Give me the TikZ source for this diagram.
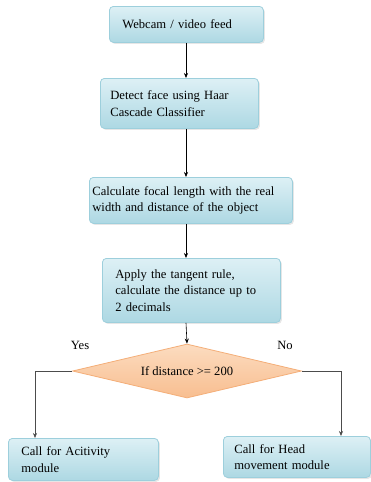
\documentclass[tikz,border=0pt]{standalone}
\usepackage{fontspec}
\setmainfont{Liberation Serif}
\usepackage{tikz}
\usetikzlibrary{arrows.meta, positioning, shapes.geometric, shadows}

\definecolor{boxtop}{HTML}{DDF0F5}
\definecolor{boxbot}{HTML}{ADD8E3}
\definecolor{boxline}{HTML}{9DCFDC}
\definecolor{dectop}{HTML}{FCDCC0}
\definecolor{decbot}{HTML}{F8BE90}
\definecolor{decline}{HTML}{F4AE78}

\begin{document}
\begin{tikzpicture}[
    x=1pt, y=-1pt,
    font=\fontsize{12.6}{16.5}\selectfont,
    stepbox/.style={rectangle, rounded corners=4pt, draw=boxline, line width=0.8pt,
        top color=boxtop, bottom color=boxbot, align=left, anchor=north west,
        inner ysep=2pt, drop shadow={shadow xshift=1.5pt, shadow yshift=-1.5pt, opacity=0.2}},
    decision/.style={diamond, aspect=4.2, draw=decline, line width=0.8pt, top color=dectop,
        bottom color=decbot, minimum width=229pt, minimum height=54pt, inner sep=0pt},
    flow/.style={-{Stealth[length=5pt, width=4pt]}, line width=0.6pt},
    branch/.style={-{Stealth[length=5pt, width=4pt]}, line width=0.6pt, draw=black!70}
]
\useasboundingbox (0,0) rectangle (371,482);

\node [stepbox, inner xsep=13pt, text width=128pt, minimum height=36pt] (feed) at (109,6) {Webcam / video feed};
\node [stepbox, inner xsep=10pt, text width=138pt, minimum height=50pt] (detect) at (100,78) {Detect face using Haar\\Cascade Classifier};
\node [stepbox, inner xsep=3pt, text width=197pt, minimum height=46pt] (focal) at (89,177) {Calculate focal length with the real\\width and distance of the object};
\node [stepbox, inner xsep=13pt, text width=152pt, minimum height=64pt] (tangent) at (102,258) {Apply the tangent rule,\\calculate the distance up to\\2 decimals};
\node [decision] (check) at (187,371) {If distance >= 200};
\node [stepbox, inner xsep=13pt, text width=124pt, minimum height=42pt] (activity) at (8,438) {Call for Acitivity\\module};
\node [stepbox, inner xsep=11pt, text width=125pt, minimum height=41pt] (head) at (223,436) {Call for Head\\movement module};

\node (yes) at (80,345) {Yes};
\node (no) at (285,345) {No};

\draw[flow] (feed.south -| 186,0) -- (detect.north -| 186,0);
\draw[flow] (detect.south -| 186,0) -- (focal.north -| 186,0);
\draw[flow] (focal.south -| 186,0) -- (tangent.north -| 186,0);
\draw[flow] (tangent.south -| 186,0) -- (check.north);
\draw[branch] (check.west) -| (activity.north -| 35,0);
\draw[branch] (check.east) -| (head.north -| 341,0);
\end{tikzpicture}
\end{document}
